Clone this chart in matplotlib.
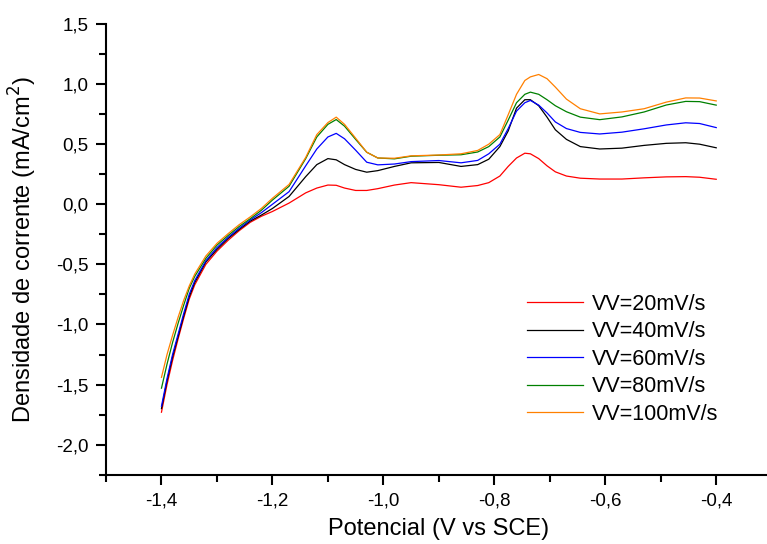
import matplotlib
matplotlib.use("Agg")
import matplotlib.pyplot as plt
from matplotlib.ticker import FixedLocator, MultipleLocator

# potential (V vs SCE), shared by all sweeps
potencial = [-1.40, -1.39, -1.38, -1.37, -1.36, -1.35, -1.34, -1.32, -1.30, -1.28,
             -1.26, -1.24, -1.22, -1.20, -1.17, -1.14, -1.12, -1.10, -1.085, -1.07,
             -1.05, -1.03, -1.01, -0.98, -0.95, -0.90, -0.86, -0.83, -0.81, -0.79,
             -0.775, -0.76, -0.745, -0.735, -0.72, -0.705, -0.69, -0.67, -0.645, -0.61,
             -0.57, -0.53, -0.49, -0.455, -0.43, -0.40]

vv20 = [-1.73, -1.50, -1.30, -1.12, -0.95, -0.79, -0.67, -0.50, -0.39, -0.30,
        -0.22, -0.15, -0.10, -0.06, 0.01, 0.095, 0.135, 0.16, 0.158, 0.135,
        0.115, 0.115, 0.13, 0.16, 0.18, 0.163, 0.142, 0.156, 0.18, 0.235,
        0.315, 0.385, 0.425, 0.42, 0.38, 0.32, 0.27, 0.235, 0.217, 0.21,
        0.21, 0.22, 0.228, 0.23, 0.225, 0.208]

vv40 = [-1.70, -1.47, -1.27, -1.10, -0.93, -0.77, -0.65, -0.48, -0.375, -0.285,
        -0.21, -0.14, -0.09, -0.035, 0.065, 0.23, 0.33, 0.38, 0.37, 0.33,
        0.29, 0.267, 0.28, 0.315, 0.345, 0.348, 0.315, 0.33, 0.375, 0.48,
        0.61, 0.80, 0.87, 0.87, 0.82, 0.725, 0.62, 0.54, 0.48, 0.46,
        0.467, 0.49, 0.507, 0.512, 0.50, 0.47]

vv60 = [-1.68, -1.45, -1.25, -1.08, -0.91, -0.75, -0.635, -0.47, -0.36, -0.275,
        -0.20, -0.13, -0.07, 0.00, 0.105, 0.32, 0.46, 0.56, 0.59, 0.545,
        0.45, 0.35, 0.328, 0.335, 0.355, 0.364, 0.345, 0.365, 0.42, 0.50,
        0.63, 0.775, 0.845, 0.864, 0.825, 0.76, 0.685, 0.63, 0.598, 0.585,
        0.60, 0.628, 0.66, 0.678, 0.672, 0.638]

vv80 = [-1.53, -1.33, -1.15, -0.99, -0.84, -0.70, -0.60, -0.45, -0.34, -0.26,
        -0.185, -0.12, -0.05, 0.035, 0.15, 0.38, 0.56, 0.665, 0.705, 0.65,
        0.54, 0.433, 0.385, 0.378, 0.40, 0.408, 0.412, 0.435, 0.48, 0.56,
        0.70, 0.845, 0.915, 0.933, 0.915, 0.87, 0.82, 0.77, 0.725, 0.704,
        0.727, 0.768, 0.826, 0.856, 0.854, 0.825]

vv100 = [-1.44, -1.25, -1.09, -0.94, -0.80, -0.68, -0.58, -0.43, -0.325, -0.245,
         -0.17, -0.105, -0.035, 0.05, 0.165, 0.39, 0.58, 0.68, 0.725, 0.665,
         0.55, 0.433, 0.385, 0.383, 0.403, 0.41, 0.42, 0.448, 0.50, 0.58,
         0.745, 0.915, 1.03, 1.06, 1.08, 1.045, 0.975, 0.875, 0.795, 0.752,
         0.768, 0.795, 0.85, 0.885, 0.884, 0.86]

labels = ["VV=20mV/s", "VV=40mV/s", "VV=60mV/s", "VV=80mV/s", "VV=100mV/s"]
colors = ["#ff0000", "#000000", "#0000ff", "#008000", "#ff8000"]

xticks = [-1.4, -1.2, -1.0, -0.8, -0.6, -0.4]
xticklabels = ["-1,4", "-1,2", "-1,0", "-0,8", "-0,6", "-0,4"]
yticks = [-2.0, -1.5, -1.0, -0.5, 0.0, 0.5, 1.0, 1.5]
yticklabels = ["-2,0", "-1,5", "-1,0", "-0,5", "0,0", "0,5", "1,0", "1,5"]

plt.rcParams['font.family'] = ['Liberation Sans', 'DejaVu Sans']

fig = plt.figure(figsize=(7.67, 5.44), dpi=100)
ax = fig.add_axes([106/767, 1 - 474.7/544, (771.7 - 106)/767, (474.7 - 24)/544])

for ys, lab, col in zip([vv20, vv40, vv60, vv80, vv100], labels, colors):
    ax.plot(potencial, ys, color=col, lw=0.9, label=lab)

ax.set_xlim(-1.5, -0.3)
ax.set_ylim(-2.25, 1.5)

ax.xaxis.set_major_locator(FixedLocator(xticks))
ax.set_xticklabels(xticklabels)
ax.xaxis.set_minor_locator(MultipleLocator(0.1))
ax.yaxis.set_major_locator(FixedLocator(yticks))
ax.set_yticklabels(yticklabels)
ax.yaxis.set_minor_locator(MultipleLocator(0.25))

ax.spines['top'].set_visible(False)
ax.spines['right'].set_visible(False)
for s in ['left', 'bottom']:
    ax.spines[s].set_linewidth(1.5)
ax.tick_params(which='major', direction='out', length=7.5, width=1.5, labelsize=13.5, pad=5)
ax.tick_params(which='minor', direction='out', length=5, width=1.5)

ax.set_xlabel("Potencial (V vs SCE)", fontsize=17)
ax.set_ylabel("Densidade de corrente (mA/cm$^2$)", fontsize=17)
ax.xaxis.set_label_coords(0.5, -0.097)
ax.yaxis.set_label_coords(-0.1, 0.5)

ax.legend(loc='upper left', bbox_to_anchor=(527/767, 1 - 294/544),
          bbox_transform=fig.transFigure, frameon=False, fontsize=15.5,
          handlelength=2.6, handletextpad=0.4, labelspacing=0.3,
          borderpad=0, borderaxespad=0)

fig.savefig("out.png", dpi=100)
